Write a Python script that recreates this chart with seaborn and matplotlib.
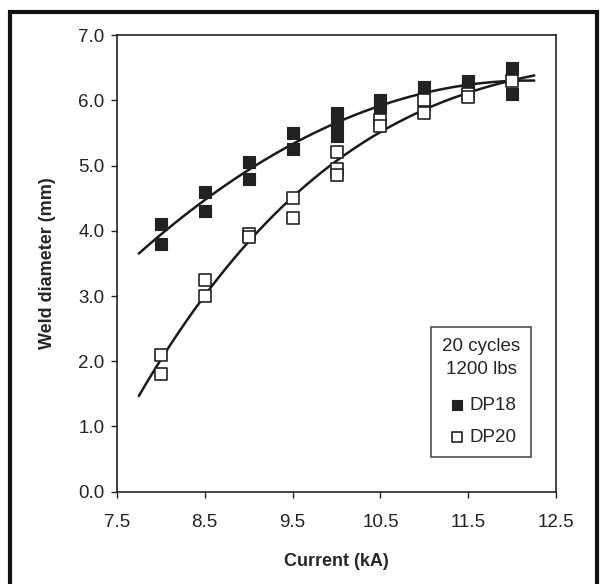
import numpy as np
import pandas as pd
import seaborn as sns
from matplotlib import pyplot as plt
from matplotlib.patches import Rectangle

# readings (current kA, weld diameter mm)
dp18_current = [8.0, 8.0, 8.5, 8.5, 9.0, 9.0, 9.5, 9.5, 10.0, 10.0, 10.0,
                10.5, 10.5, 11.0, 11.0, 11.5, 11.5, 12.0, 12.0]
dp18_diameter = [4.1, 3.8, 4.6, 4.3, 5.05, 4.8, 5.5, 5.25, 5.8, 5.65, 5.45,
                 6.0, 5.9, 6.2, 5.95, 6.3, 6.2, 6.5, 6.1]

dp20_current = [8.0, 8.0, 8.5, 8.5, 9.0, 9.0, 9.5, 9.5, 10.0, 10.0, 10.0,
                10.5, 10.5, 11.0, 11.0, 11.5, 11.5, 12.0]
dp20_diameter = [2.1, 1.8, 3.25, 3.0, 3.95, 3.9, 4.5, 4.2, 5.2, 4.95, 4.85,
                 5.7, 5.6, 6.0, 5.8, 6.1, 6.05, 6.3]

x_ticks = [7.5, 8.5, 9.5, 10.5, 11.5, 12.5]
y_ticks = [0.0, 1.0, 2.0, 3.0, 4.0, 5.0, 6.0, 7.0]


def trend(x, y, order):
    coef = np.polyfit(x, y, order)
    xs = np.linspace(7.75, 12.25, 200)
    return pd.DataFrame({'x': xs, 'y': np.polyval(coef, xs)})


def plot_welds():
    sns.set_style('ticks')
    plt.rcParams['font.family'] = ['Liberation Sans', 'DejaVu Sans']

    fig = plt.figure(figsize=(6.02, 5.84), dpi=100)
    ax = fig.add_axes([0.194, 0.158, 0.730, 0.782])

    t18 = trend(dp18_current, dp18_diameter, 2)
    t20 = trend(dp20_current, dp20_diameter, 3)
    sns.lineplot(data=t18, x='x', y='y', ax=ax, color='#1a1a1a', lw=1.8, legend=False, zorder=2)
    sns.lineplot(data=t20, x='x', y='y', ax=ax, color='#1a1a1a', lw=1.8, legend=False, zorder=2)

    df18 = pd.DataFrame({'Current': dp18_current, 'Diameter': dp18_diameter})
    df20 = pd.DataFrame({'Current': dp20_current, 'Diameter': dp20_diameter})
    sns.scatterplot(data=df18, x='Current', y='Diameter', ax=ax, marker='s', s=75,
                    color='#222222', edgecolor='#222222', linewidth=0.8, label='DP18', zorder=3)
    sns.scatterplot(data=df20, x='Current', y='Diameter', ax=ax, marker='s', s=75,
                    color='white', edgecolor='#222222', linewidth=1.2, label='DP20', zorder=4)

    ax.set_xlim(7.5, 12.5)
    ax.set_ylim(0, 7)
    ax.set_xticks(x_ticks)
    ax.set_yticks(y_ticks)
    ax.set_xticklabels([f'{v:.1f}' for v in x_ticks], fontsize=13.5)
    ax.set_yticklabels([f'{v:.1f}' for v in y_ticks], fontsize=13.5)
    ax.tick_params(direction='out', length=4, width=1, colors='#222222')
    ax.tick_params(axis='x', pad=12)
    ax.tick_params(axis='y', pad=5)
    for s in ax.spines.values():
        s.set_linewidth(1.2)
        s.set_color('#222222')

    ax.set_xlabel('Current (kA)', fontsize=13, fontweight='bold', labelpad=16)
    ax.set_ylabel('Weld diameter (mm)', fontsize=13, fontweight='bold', labelpad=16)

    leg = ax.legend(title='20 cycles\n1200 lbs', loc='lower right', bbox_to_anchor=(0.965, 0.056),
                    fontsize=13.5, title_fontsize=13.5, frameon=True, fancybox=False,
                    handletextpad=0.1, handlelength=1.2, borderpad=0.6, labelspacing=0.75,
                    markerscale=0.85)
    leg.get_frame().set_edgecolor('#222222')
    leg.get_frame().set_linewidth(1.2)
    leg.get_title().set_multialignment('center')
    leg.get_title().set_linespacing(1.45)
    leg._legend_box.sep = 14

    fig.patches.append(Rectangle((0.016, -0.01), 0.975, 0.99, transform=fig.transFigure,
                                 fill=False, edgecolor='#111111', linewidth=3))

    plt.savefig('out.png', dpi=100)


if __name__ == '__main__':
    plot_welds()
